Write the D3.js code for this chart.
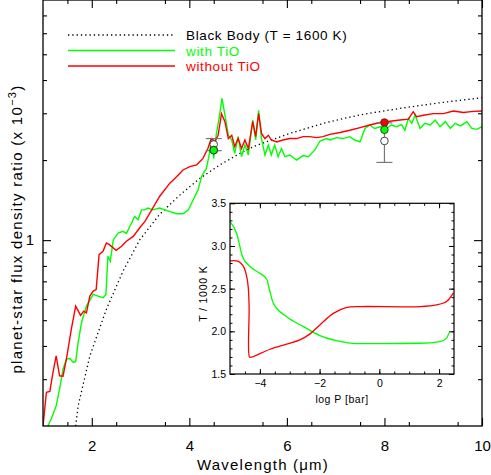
<!DOCTYPE html>
<html>
<head>
<meta charset="utf-8">
<script src="https://cdn.jsdelivr.net/npm/d3@7"></script>
<style>
body { margin: 0; background: #fff; }
text { font-family: "Liberation Sans", Arial, sans-serif; fill: #000; }
</style>
</head>
<body>
<div id="svg-container"></div>
<script>
// wavelength (micron) / flux ratio (x 1e-3)
const redWl = [1.00, 1.07, 1.14, 1.205, 1.27, 1.34, 1.41, 1.48, 1.58, 1.67, 1.77, 1.835, 1.89, 1.96, 2.03, 2.09, 2.15, 2.23, 2.30, 2.36, 2.50, 2.61, 2.71, 2.85, 2.98, 3.09, 3.19, 3.39, 3.60, 3.74, 3.87, 4.01, 4.15, 4.28, 4.38, 4.45, 4.52, 4.59, 4.66, 4.73, 4.80, 4.87, 4.93, 5.00, 5.07, 5.14, 5.21, 5.30, 5.36, 5.42, 5.48, 5.55, 5.62, 5.68, 5.79, 5.92, 6.06, 6.20, 6.33, 6.47, 6.61, 6.74, 6.88, 7.09, 7.29, 7.50, 7.70, 7.91, 8.11, 8.32, 8.49, 8.59, 8.66, 8.80, 9.00, 9.21, 9.41, 9.62, 9.82, 10.0];
const redFlux = [0.20, 0.268, 0.27, 0.318, 0.367, 0.309, 0.308, 0.357, 0.462, 0.565, 0.521, 0.541, 0.533, 0.616, 0.643, 0.652, 0.882, 0.908, 0.976, 0.962, 0.916, 0.948, 0.99, 1.033, 1.111, 1.176, 1.264, 1.459, 1.638, 1.733, 1.836, 1.89, 1.92, 2.03, 2.21, 2.41, 2.34, 2.48, 2.99, 2.79, 2.41, 2.48, 2.25, 2.41, 2.21, 2.38, 2.21, 2.79, 2.45, 2.99, 2.52, 2.41, 2.48, 2.38, 2.34, 2.38, 2.41, 2.41, 2.45, 2.45, 2.43, 2.45, 2.50, 2.54, 2.59, 2.65, 2.71, 2.77, 2.80, 2.83, 2.85, 3.04, 2.91, 2.95, 2.99, 2.99, 3.06, 3.02, 3.05, 3.06];

const greenWl = [1.10, 1.17, 1.27, 1.34, 1.41, 1.48, 1.55, 1.62, 1.67, 1.72, 1.79, 1.89, 2.03, 2.13, 2.23, 2.29, 2.33, 2.38, 2.44, 2.54, 2.64, 2.71, 2.78, 2.88, 2.95, 3.02, 3.08, 3.15, 3.25, 3.39, 3.50, 3.60, 3.74, 3.87, 3.98, 4.08, 4.18, 4.25, 4.30, 4.35, 4.42, 4.45, 4.50, 4.55, 4.62, 4.67, 4.73, 4.80, 4.87, 4.93, 5.00, 5.07, 5.14, 5.21, 5.30, 5.36, 5.42, 5.48, 5.55, 5.62, 5.68, 5.75, 5.82, 5.89, 5.96, 6.06, 6.20, 6.33, 6.44, 6.57, 6.68, 6.81, 6.88, 7.02, 7.15, 7.29, 7.39, 7.50, 7.60, 7.70, 7.80, 7.91, 8.04, 8.14, 8.25, 8.35, 8.42, 8.49, 8.56, 8.63, 8.73, 8.83, 8.94, 9.04, 9.14, 9.25, 9.35, 9.45, 9.56, 9.69, 9.79, 9.89, 10.0];
const greenFlux = [0.20, 0.213, 0.238, 0.275, 0.327, 0.357, 0.359, 0.347, 0.349, 0.412, 0.49, 0.565, 0.625, 0.616, 0.608, 0.625, 0.87, 0.833, 1.0, 1.064, 1.079, 1.06, 1.126, 1.228, 1.193, 1.30, 1.30, 1.32, 1.30, 1.32, 1.30, 1.28, 1.257, 1.257, 1.30, 1.418, 1.546, 1.733, 1.80, 1.86, 2.15, 2.41, 2.03, 2.48, 2.95, 3.41, 2.95, 2.48, 2.38, 2.12, 2.45, 2.06, 2.28, 2.09, 2.83, 2.38, 3.08, 2.41, 2.09, 2.28, 2.09, 2.28, 2.06, 2.21, 2.06, 2.09, 2.0, 2.08, 2.06, 2.18, 2.36, 2.41, 2.38, 2.43, 2.41, 2.45, 2.38, 2.34, 2.63, 2.71, 2.63, 2.67, 2.63, 2.71, 2.67, 2.72, 2.59, 2.87, 2.75, 2.95, 2.63, 2.75, 2.71, 2.83, 2.67, 2.79, 2.63, 2.75, 2.69, 2.79, 2.63, 2.61, 2.67];

const bbWl = [1.67, 1.72, 1.96, 2.30, 2.64, 2.98, 3.39, 3.81, 4.22, 4.63, 5.04, 5.37, 6.06, 6.81, 7.50, 8.32, 9.10, 10.0];
const bbFlux = [0.20, 0.238, 0.367, 0.55, 0.764, 1.0, 1.25, 1.48, 1.71, 1.92, 2.12, 2.27, 2.52, 2.77, 2.96, 3.13, 3.28, 3.43];

// photometry: observed (open), models (filled)
const obsWl = [4.5, 8.0];
const obsFlux = [2.29, 2.36];
const obsErr = [0.12, 0.40];
const modelRed = [2.18, 2.77];
const modelGreen = [2.18, 2.60];

// inset: T-P profiles
const insetGreenP = [-5.0, -4.78, -4.58, -4.33, -4.0, -3.77, -3.68, -3.55, -3.1, -2.54, -1.99, -1.43, -0.76, 0.02, 1.36, 2.03, 2.25, 2.34];
const insetGreenT = [3.285, 3.15, 2.875, 2.76, 2.68, 2.61, 2.49, 2.33, 2.17, 2.055, 1.95, 1.89, 1.855, 1.855, 1.86, 1.88, 1.92, 1.985];
const insetRedP = [-5.0, -4.72, -4.55, -4.44, -4.39, -4.36, -4.35, -4.31, -3.66, -3.1, -2.66, -2.32, -1.99, -1.54, -1.09, -0.65, 1.36, 1.92, 2.25, 2.48];
const insetRedT = [2.825, 2.82, 2.76, 2.64, 2.52, 2.29, 1.70, 1.695, 1.79, 1.85, 1.90, 1.97, 2.075, 2.21, 2.28, 2.29, 2.29, 2.31, 2.35, 2.45];

const legendLabels = ['Black Body (T = 1600 K)', 'with TiO', 'without TiO'];
const xMajor = [2, 4, 6, 8, 10];
const yMajor = [1];
const yMinor = [0.3, 0.4, 0.5, 0.6, 0.7, 0.8, 0.9, 2, 3, 4, 5, 6, 7];
const insetXMajor = [-4, -2, 0, 2];
const insetYMajor = [1.5, 2.0, 2.5, 3.0, 3.5];

const green = '#00ff00';
const red = '#ff0000';

const margin = {left: 43, right: 9, top: 0, bottom: 49};
const svgWidth = 491;
const svgHeight = 475;
const width = svgWidth - margin.left - margin.right;
const height = svgHeight - margin.top - margin.bottom;

const root = d3.select('#svg-container')
.append('svg')
.attr('width', svgWidth)
.attr('height', svgHeight);

const svg = root.append('g')
.attr('transform', `translate(${margin.left}, ${margin.top})`);

const x = d3.scaleLinear().domain([1, 10]).range([0, width]);
const y = d3.scaleLog().domain([0.2, 8]).range([height, 0]);

svg.append('clipPath').attr('id', 'clip')
.append('rect').attr('width', width).attr('height', height);

const line = d3.line().x((d) => x(d[0])).y((d) => y(d[1]));
const zip = (a, b) => a.map((v, i) => [v, b[i]]);

const plot = svg.append('g').attr('clip-path', 'url(#clip)');

plot.append('path')
.attr('d', line(zip(bbWl, bbFlux)))
.attr('fill', 'none')
.attr('stroke', '#000')
.attr('stroke-width', 1.3)
.attr('stroke-dasharray', '1.3,3');

plot.append('path')
.attr('d', line(zip(greenWl, greenFlux)))
.attr('fill', 'none')
.attr('stroke', green)
.attr('stroke-width', 1.4);

plot.append('path')
.attr('d', line(zip(redWl, redFlux)))
.attr('fill', 'none')
.attr('stroke', red)
.attr('stroke-width', 1.4);

// error bars
obsWl.forEach((w, i) => {
    const cx = x(w);
    const lo = y(obsFlux[i] - obsErr[i]);
    const hi = y(obsFlux[i] + obsErr[i]);
    const eb = svg.append('g').attr('stroke', '#777').attr('stroke-width', 1.2);
    eb.append('line').attr('x1', cx).attr('x2', cx).attr('y1', lo).attr('y2', hi);
    eb.append('line').attr('x1', cx - 8).attr('x2', cx + 8).attr('y1', lo).attr('y2', lo);
    eb.append('line').attr('x1', cx - 8).attr('x2', cx + 8).attr('y1', hi).attr('y2', hi);
});

const circles = (vals, fill) => {
    svg.append('g').selectAll('circle')
    .data(obsWl)
    .enter()
    .append('circle')
    .attr('cx', (d) => x(d))
    .attr('cy', (d, i) => y(vals[i]))
    .attr('r', 3.8)
    .attr('fill', fill)
    .attr('stroke', '#333')
    .attr('stroke-width', 0.9);
};
circles(obsFlux, '#fff');
circles(modelRed, red);
circles(modelGreen, green);

// axes, ticks pointing inward
const noLabel = () => '';
svg.append('g').attr('class', 'ax').attr('transform', `translate(0,${height})`)
.call(d3.axisBottom(x).tickValues(xMajor).tickSize(-8).tickPadding(14).tickFormat(d3.format('d')));
svg.append('g').attr('class', 'ax').attr('transform', `translate(0,${height})`)
.call(d3.axisBottom(x).tickValues(d3.range(1.5, 10, 1)).tickSize(-4).tickFormat(noLabel));
svg.append('g').attr('class', 'ax')
.call(d3.axisTop(x).tickValues(xMajor).tickSize(-8).tickFormat(noLabel));
svg.append('g').attr('class', 'ax')
.call(d3.axisTop(x).tickValues(d3.range(1.5, 10, 1)).tickSize(-4).tickFormat(noLabel));
svg.append('g').attr('class', 'ax')
.call(d3.axisLeft(y).tickValues(yMajor).tickSize(-8).tickPadding(9).tickFormat(d3.format('d')));
svg.append('g').attr('class', 'ax')
.call(d3.axisLeft(y).tickValues(yMinor).tickSize(-4).tickFormat(noLabel));
svg.append('g').attr('class', 'ax').attr('transform', `translate(${width},0)`)
.call(d3.axisRight(y).tickValues(yMajor).tickSize(-8).tickFormat(noLabel));
svg.append('g').attr('class', 'ax').attr('transform', `translate(${width},0)`)
.call(d3.axisRight(y).tickValues(yMinor).tickSize(-4).tickFormat(noLabel));

svg.selectAll('.ax .domain').remove();
svg.selectAll('.ax text').attr('font-size', 15).style('font-family', '"Liberation Sans", Arial, sans-serif');
svg.selectAll('.ax line').attr('stroke-width', 1.1);

svg.append('rect')
.attr('width', width).attr('height', height)
.attr('fill', 'none').attr('stroke', '#000').attr('stroke-width', 1.3);

// axis titles
root.append('text')
.attr('x', 263).attr('y', 470)
.attr('text-anchor', 'middle')
.attr('font-size', 15)
.attr('letter-spacing', 1.2)
.text('Wavelength (\u03bcm)');

const ylab = root.append('text')
.attr('transform', 'translate(22,229) rotate(-90)')
.attr('text-anchor', 'middle')
.attr('font-size', 15)
.attr('letter-spacing', 1.3);
ylab.append('tspan').text('planet-star flux density ratio (x 10');
ylab.append('tspan').attr('dy', -6).attr('font-size', 11).text('\u22123');
ylab.append('tspan').attr('dy', 6).text(')');

// legend
const legendColors = ['#000', green, red];
const legend = root.append('g');
legendLabels.forEach((label, i) => {
    const ly = 35 + i * 15.5;
    legend.append('line')
    .attr('x1', 68).attr('x2', 175).attr('y1', ly).attr('y2', ly)
    .attr('stroke', legendColors[i])
    .attr('stroke-width', 1.4)
    .attr('stroke-dasharray', i === 0 ? '1.3,3' : null);
    legend.append('text')
    .attr('x', 186).attr('y', ly + 5)
    .attr('font-size', 13.5)
    .attr('letter-spacing', 0.65)
    .style('fill', legendColors[i])
    .text(label);
});

// inset
const inset = {left: 230, top: 203.3, width: 224, height: 170.7};
const ig = root.append('g').attr('transform', `translate(${inset.left},${inset.top})`);
const ix = d3.scaleLinear().domain([-5, 2.5]).range([0, inset.width]);
const iy = d3.scaleLinear().domain([1.5, 3.5]).range([inset.height, 0]);

ig.append('rect').attr('width', inset.width).attr('height', inset.height).attr('fill', '#fff');

const iline = d3.line().x((d) => ix(d[0])).y((d) => iy(d[1])).curve(d3.curveMonotoneX);
ig.append('path')
.attr('d', iline(zip(insetGreenP, insetGreenT)))
.attr('fill', 'none').attr('stroke', green).attr('stroke-width', 1.3);
ig.append('path')
.attr('d', d3.line().x((d) => ix(d[0])).y((d) => iy(d[1])).curve(d3.curveCatmullRom)(zip(insetRedP, insetRedT)))
.attr('fill', 'none').attr('stroke', red).attr('stroke-width', 1.3);

ig.append('g').attr('class', 'iax').attr('transform', `translate(0,${inset.height})`)
.call(d3.axisBottom(ix).tickValues(insetXMajor).tickSize(-5).tickPadding(6).tickFormat(d3.format('d')));
ig.append('g').attr('class', 'iax').attr('transform', `translate(0,${inset.height})`)
.call(d3.axisBottom(ix).tickValues(d3.range(-4.5, 2.5, 0.5)).tickSize(-2.5).tickFormat(noLabel));
ig.append('g').attr('class', 'iax')
.call(d3.axisTop(ix).tickValues(insetXMajor).tickSize(-5).tickFormat(noLabel));
ig.append('g').attr('class', 'iax')
.call(d3.axisTop(ix).tickValues(d3.range(-4.5, 2.5, 0.5)).tickSize(-2.5).tickFormat(noLabel));
ig.append('g').attr('class', 'iax')
.call(d3.axisLeft(iy).tickValues(insetYMajor).tickSize(-5).tickPadding(4).tickFormat(d3.format('.1f')));
ig.append('g').attr('class', 'iax')
.call(d3.axisLeft(iy).tickValues(d3.range(1.6, 3.45, 0.1)).tickSize(-2.5).tickFormat(noLabel));
ig.append('g').attr('class', 'iax').attr('transform', `translate(${inset.width},0)`)
.call(d3.axisRight(iy).tickValues(insetYMajor).tickSize(-5).tickFormat(noLabel));
ig.append('g').attr('class', 'iax').attr('transform', `translate(${inset.width},0)`)
.call(d3.axisRight(iy).tickValues(d3.range(1.6, 3.45, 0.1)).tickSize(-2.5).tickFormat(noLabel));

ig.selectAll('.iax .domain').remove();
ig.selectAll('.iax text').attr('font-size', 10.5).style('font-family', '"Liberation Sans", Arial, sans-serif');

ig.append('rect')
.attr('width', inset.width).attr('height', inset.height)
.attr('fill', 'none').attr('stroke', '#000').attr('stroke-width', 1.2);

ig.append('text')
.attr('x', inset.width / 2).attr('y', inset.height + 29)
.attr('text-anchor', 'middle').attr('font-size', 10.5)
.attr('letter-spacing', 0.5)
.text('log P [bar]');

ig.append('text')
.attr('transform', `translate(-23,${inset.height / 2 + 5}) rotate(-90)`)
.attr('text-anchor', 'middle').attr('font-size', 10.5)
.attr('letter-spacing', 0.8)
.text('T / 1000 K');
</script>
</body>
</html>
